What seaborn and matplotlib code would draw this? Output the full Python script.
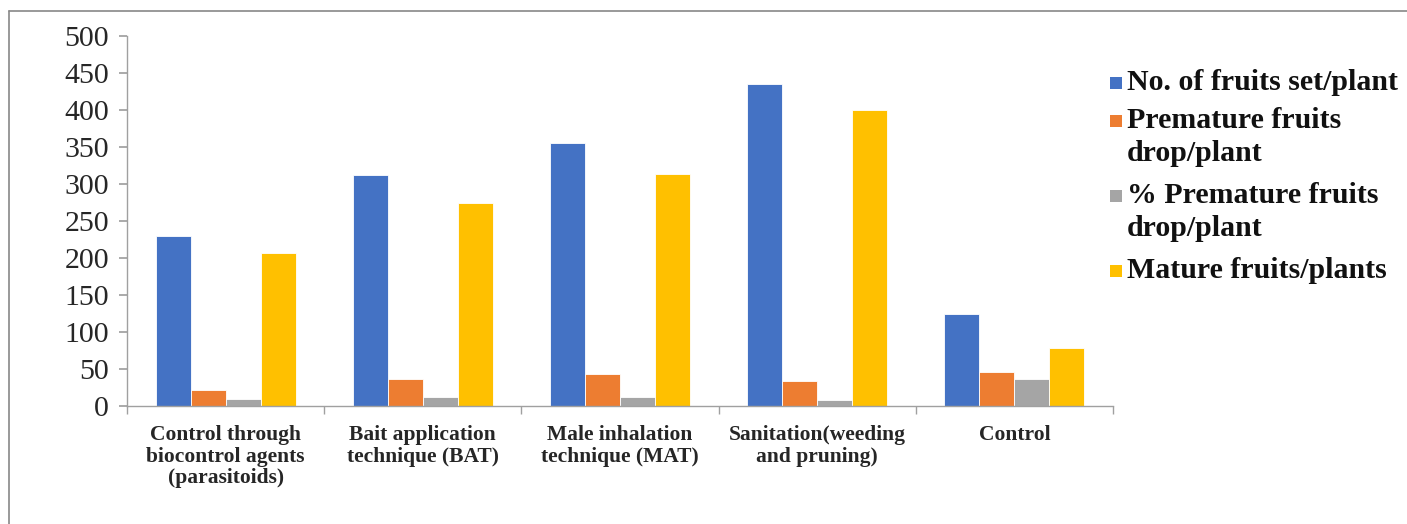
import matplotlib
matplotlib.use("Agg")
import matplotlib.pyplot as plt
import seaborn as sns
import pandas as pd
import numpy as np
from matplotlib.patches import Rectangle
from matplotlib.lines import Line2D

categories = ["Control through\nbiocontrol agents\n(parasitoids)",
              "Bait application\ntechnique (BAT)",
              "Male inhalation\ntechnique (MAT)",
              "Sanitation(weeding\nand pruning)",
              "Control"]
series_names = ["No. of fruits set/plant",
                "Premature fruits\ndrop/plant",
                "% Premature fruits\ndrop/plant",
                "Mature fruits/plants"]
fruits_set = [230, 312, 355, 435, 125]
premature_drop = [22, 37, 43, 34, 46]
pct_premature_drop = [9.5, 12, 12, 8, 36]
mature_fruits = [207, 275, 313, 400, 79]
colors = ["#4472C4", "#ED7D31", "#A5A5A5", "#FFC000"]

rows = []
for vals, name in zip([fruits_set, premature_drop, pct_premature_drop, mature_fruits], series_names):
    for c, v in zip(categories, vals):
        rows.append({"cat": c, "series": name, "value": v})
df = pd.DataFrame(rows)

sns.set_theme(style="white")
plt.rcParams['font.family'] = ['Liberation Serif', 'DejaVu Serif']

W, H = 1407, 524
fig = plt.figure(figsize=(W / 100, H / 100), dpi=100)
ax = fig.add_axes([127 / W, 1 - 406 / H, (1113 - 127) / W, (406 - 36) / H])
sns.barplot(data=df, x="cat", y="value", hue="series", palette=colors,
            width=0.71, gap=0, ax=ax, legend=False, edgecolor="white", linewidth=0.6,
            saturation=1)

ax.set_ylim(0, 500)
ax.set_xlim(-0.5, len(categories) - 0.5)
ax.set_yticks(np.arange(0, 501, 50))
ax.tick_params(axis="y", labelsize=21.5, length=6, color="#A0A0A0", direction="out", left=True, pad=7)
ax.set_xticks(range(len(categories)))
ax.set_xticklabels(categories, fontsize=15.5, fontweight="bold", linespacing=1.1)
ax.tick_params(axis="x", length=0, pad=14)
ax.set_xticks(np.arange(-0.5, len(categories), 1.0), minor=True)
ax.tick_params(axis="x", which="minor", length=6, color="#A0A0A0", bottom=True)
ax.set_xlabel("")
ax.set_ylabel("")
for s in ["top", "right"]:
    ax.spines[s].set_visible(False)
for s in ["left", "bottom"]:
    ax.spines[s].set_color("#A0A0A0")
    ax.spines[s].set_linewidth(1.0)

# legend drawn manually so the swatch aligns with the first text line
legend_tops = [83, 121, 196, 271]  # pixel y centres of first lines
for name, col, yc in zip(series_names, colors, legend_tops):
    fig.add_artist(Rectangle((1110 / W, 1 - (yc + 6) / H), 12 / W, 12 / H,
                             transform=fig.transFigure, facecolor=col, edgecolor="none"))
    fig.text(1127 / W, 1 - (yc - 14) / H, name, ha="left", va="top",
             fontsize=21.5, fontweight="bold", family="Liberation Serif",
             linespacing=1.27, color="#111111")

# outer frame (top and left lines)
fig.add_artist(Line2D([9 / W, 1.0], [1 - 11 / H, 1 - 11 / H], transform=fig.transFigure, color="#888888", lw=1.2))
fig.add_artist(Line2D([9 / W, 9 / W], [0, 1 - 11 / H], transform=fig.transFigure, color="#888888", lw=1.2))

fig.savefig("out.png", dpi=100, facecolor="white")
